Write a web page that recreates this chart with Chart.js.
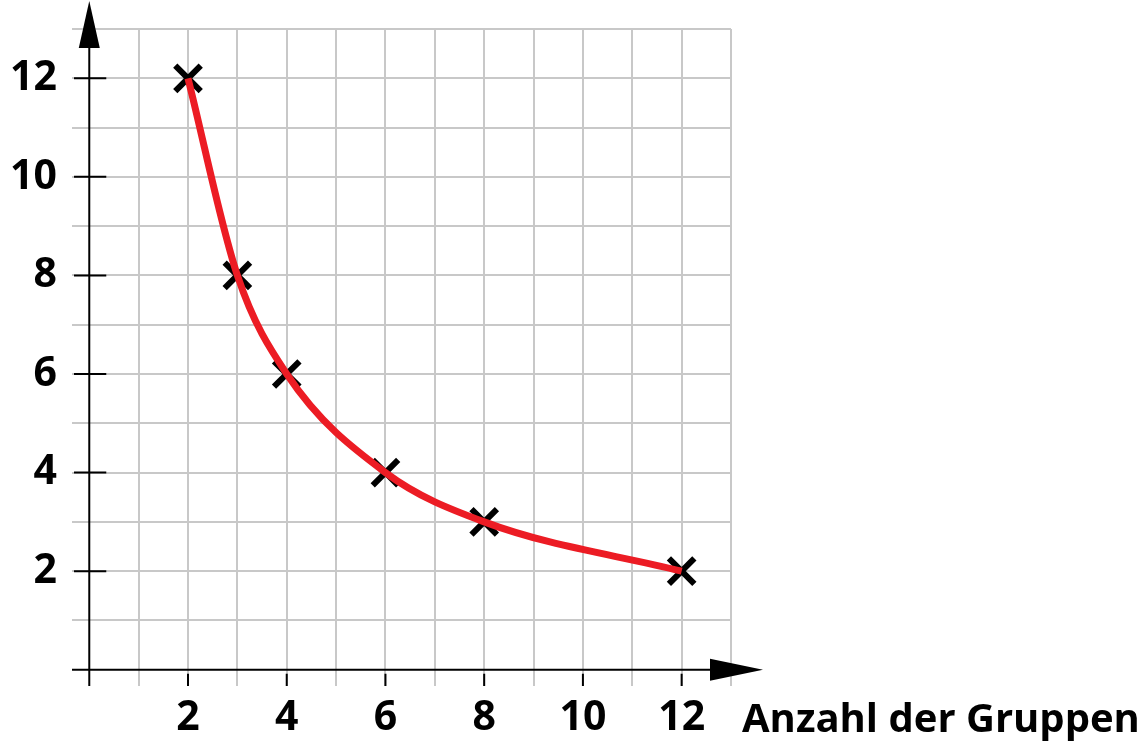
<!DOCTYPE html>
<html>
<head>
<meta charset="utf-8">
<script src="https://cdn.jsdelivr.net/npm/chart.js@4/dist/chart.umd.min.js"></script>
<style>
  html, body { margin: 0; padding: 0; background: #fff; }
  #wrap { width: 1144px; height: 741px; position: relative; }
</style>
</head>
<body>
<div id="wrap"><canvas id="chart"></canvas></div>
<script>
// data
const groups = [2, 3, 4, 6, 8, 12];
const perGroup = [12, 8, 6, 4, 3, 2];
const gridValues = [0, 1, 2, 3, 4, 5, 6, 7, 8, 9, 10, 11, 12, 13];
const xLabels = [2, 4, 6, 8, 10, 12];
const yLabels = [2, 4, 6, 8, 10, 12];
const xTitle = "Anzahl der Gruppen";

const points = groups.map((g, i) => ({ x: g, y: perGroup[i] }));
const labelFont = { family: "'Open Sans', sans-serif", size: 41, weight: 700 };

// axes with arrows, tick marks and the axis title
const axesPlugin = {
  id: "axes",
  beforeDatasetsDraw(chart) {
    const ctx = chart.ctx;
    const xs = chart.scales.x, ys = chart.scales.y;
    const x0 = xs.getPixelForValue(0), y0 = ys.getPixelForValue(0);
    const area = chart.chartArea;
    ctx.save();
    ctx.strokeStyle = "#000";
    ctx.fillStyle = "#000";
    ctx.lineWidth = 2;
    // y axis
    ctx.beginPath();
    ctx.moveTo(x0, area.bottom);
    ctx.lineTo(x0, 40);
    ctx.stroke();
    ctx.beginPath();
    ctx.moveTo(x0, 1);
    ctx.lineTo(x0 - 10.5, 48);
    ctx.lineTo(x0 + 10.5, 48);
    ctx.closePath();
    ctx.fill();
    // x axis
    ctx.beginPath();
    ctx.moveTo(area.left, y0);
    ctx.lineTo(715, y0);
    ctx.stroke();
    ctx.beginPath();
    ctx.moveTo(763, y0);
    ctx.lineTo(710, y0 - 11);
    ctx.lineTo(710, y0 + 11);
    ctx.closePath();
    ctx.fill();
    // tick marks
    yLabels.forEach(v => {
      const p = ys.getPixelForValue(v);
      ctx.beginPath();
      ctx.moveTo(area.left + 2, p);
      ctx.lineTo(x0 + 17, p);
      ctx.stroke();
    });
    xLabels.forEach(v => {
      const p = xs.getPixelForValue(v);
      ctx.beginPath();
      ctx.moveTo(p, y0 + 4);
      ctx.lineTo(p, area.bottom);
      ctx.stroke();
    });
    ctx.restore();
  },
  afterDraw(chart) {
    const ctx = chart.ctx;
    const xs = chart.scales.x;
    ctx.save();
    ctx.font = "700 40px 'Open Sans', sans-serif";
    ctx.fillStyle = "#000";
    ctx.textAlign = "left";
    ctx.textBaseline = "alphabetic";
    ctx.fillText(xTitle, xs.getPixelForValue(13) + 11, 732);
    ctx.restore();
  }
};

new Chart(document.getElementById("chart"), {
  type: "line",
  data: {
    datasets: [
      {
        label: "Kurve",
        data: points,
        borderColor: "#ec1c24",
        borderWidth: 7,
        cubicInterpolationMode: "monotone",
        pointRadius: 0,
        fill: false,
        order: 1
      },
      {
        label: "Messpunkte",
        data: points,
        showLine: false,
        pointStyle: "crossRot",
        pointRadius: 18,
        pointBorderWidth: 6,
        pointBorderColor: "#000",
        pointBackgroundColor: "#000",
        order: 2
      }
    ]
  },
  options: {
    responsive: true,
    maintainAspectRatio: false,
    animation: false,
    events: [],
    layout: { padding: { top: 29, right: 413, left: 0, bottom: 0 } },
    plugins: { legend: { display: false }, tooltip: { enabled: false } },
    scales: {
      x: {
        type: "linear",
        min: -0.35,
        max: 13,
        afterBuildTicks: s => { s.ticks = gridValues.map(v => ({ value: v })); },
        afterFit: s => { s.height = 55; s.paddingLeft = 0; s.paddingRight = 0; },
        border: { display: false },
        grid: {
          drawTicks: false,
          lineWidth: 2,
          color: c => c.tick && c.tick.value === 0 ? "rgba(0,0,0,0)" : "#c8c8c8"
        },
        ticks: {
          autoSkip: false,
          maxRotation: 0,
          padding: 8,
          color: "#000",
          font: labelFont,
          callback: v => xLabels.includes(v) ? String(v) : ""
        }
      },
      y: {
        type: "linear",
        min: -0.33,
        max: 13,
        afterBuildTicks: s => { s.ticks = gridValues.map(v => ({ value: v })); },
        afterFit: s => { s.width = 72; s.paddingTop = 0; s.paddingBottom = 0; },
        border: { display: false },
        grid: {
          drawTicks: false,
          lineWidth: 2,
          color: c => c.tick && c.tick.value === 0 ? "rgba(0,0,0,0)" : "#c8c8c8"
        },
        ticks: {
          autoSkip: false,
          padding: 15,
          color: "#000",
          font: labelFont,
          callback: v => yLabels.includes(v) ? String(v) : ""
        }
      }
    }
  },
  plugins: [axesPlugin]
});
</script>
</body>
</html>
